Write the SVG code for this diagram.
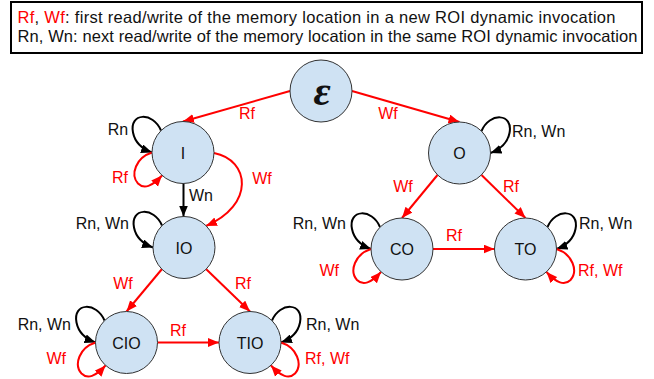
<svg xmlns="http://www.w3.org/2000/svg" width="654" height="379" viewBox="0 0 654 379">
<style>
.node circle{fill:#cfe2f3;stroke:#333;stroke-width:1}
.node text{font-family:"Liberation Sans",Arial,sans-serif;font-size:16px;text-anchor:middle;fill:#111}
.e{stroke:#f00;stroke-width:2;fill:none;marker-end:url(#ar)}
.k{stroke:#000;stroke-width:2;fill:none;marker-end:url(#ak)}
.lbl{font-family:"Liberation Sans",Arial,sans-serif;font-size:16px}
.r{fill:#f00}
.b{fill:#111}
.leg{font-family:"Liberation Sans",Arial,sans-serif;font-size:16.5px;fill:#111}
</style>
<defs>
<marker id="ar" markerUnits="userSpaceOnUse" markerWidth="12" markerHeight="10" refX="11" refY="4.5" orient="auto"><path d="M0,0 L11,4.5 L0,9 z" fill="#f00"/></marker>
<marker id="ak" markerUnits="userSpaceOnUse" markerWidth="12" markerHeight="10" refX="11" refY="4.5" orient="auto"><path d="M0,0 L11,4.5 L0,9 z" fill="#000"/></marker>
<path id="loopK" d="M-22,-22 C-30,-41 -54,-40 -50,-20 C-48,-10 -42,-4 -31,0"/>
<path id="loopR" d="M-31,0 C-47,5 -53,22 -45,31 C-39,37 -31,34 -21,23"/>
</defs>
<g id="legend">
<rect x="11" y="2" width="631" height="51" fill="#fff" stroke="#000" stroke-width="2"/>
<text class="leg" x="17.5" y="23" textLength="598" lengthAdjust="spacing"><tspan fill="#f00">Rf</tspan>, <tspan fill="#f00">Wf</tspan>: first read/write of the memory location in a new ROI dynamic invocation</text>
<text class="leg" x="17.5" y="42" textLength="620" lengthAdjust="spacing">Rn, Wn: next read/write of the memory location in the same ROI dynamic invocation</text>
</g>
<g id="connectors">
<path class="e" d="M290,91 L183,121.5"/>
<path class="e" d="M352,91 L459.5,122"/>
<path class="k" d="M183.5,183.5 L183.5,216.5"/>
<path class="e" d="M214,153 C250,160 255,205 206,226"/>
<path class="e" d="M162,269 L126.5,311.5"/>
<path class="e" d="M206,269 L250,311.5"/>
<path class="e" d="M157.5,342.5 L219,342.5"/>
<path class="e" d="M437.5,175 L402,218"/>
<path class="e" d="M481.5,175 L525.5,218"/>
<path class="e" d="M433,249 L494.5,249"/>
<use href="#loopK" class="k" transform="translate(183,152.5)"/>
<use href="#loopR" class="e" transform="translate(183,152.5)"/>
<use href="#loopK" class="k" transform="translate(184,247.5)"/>
<use href="#loopK" class="k" transform="translate(126.5,342.5)"/>
<use href="#loopR" class="e" transform="translate(126.5,342.5)"/>
<use href="#loopK" class="k" transform="translate(250,342.5) scale(-1,1)"/>
<use href="#loopR" class="e" transform="translate(250,342.5) scale(-1,1)"/>
<use href="#loopK" class="k" transform="translate(459.5,153) scale(-1,1)"/>
<use href="#loopK" class="k" transform="translate(402,249)"/>
<use href="#loopR" class="e" transform="translate(402,249)"/>
<use href="#loopK" class="k" transform="translate(525.5,249) scale(-1,1)"/>
<use href="#loopR" class="e" transform="translate(525.5,249) scale(-1,1)"/>
<text class="lbl r" x="247" y="119" text-anchor="middle">Rf</text>
<text class="lbl r" x="388" y="119" text-anchor="middle">Wf</text>
<text class="lbl b" x="189" y="201">Wn</text>
<text class="lbl r" x="262" y="184" text-anchor="middle">Wf</text>
<text class="lbl b" x="118" y="135" text-anchor="middle">Rn</text>
<text class="lbl r" x="120" y="183" text-anchor="middle">Rf</text>
<text class="lbl b" x="129" y="229" text-anchor="end">Rn, Wn</text>
<text class="lbl r" x="123" y="289" text-anchor="middle">Wf</text>
<text class="lbl r" x="243" y="289" text-anchor="middle">Rf</text>
<text class="lbl r" x="178" y="336" text-anchor="middle">Rf</text>
<text class="lbl b" x="71" y="330" text-anchor="end">Rn, Wn</text>
<text class="lbl r" x="66" y="364" text-anchor="end">Wf</text>
<text class="lbl b" x="306" y="330">Rn, Wn</text>
<text class="lbl r" x="305" y="364">Rf<tspan>, </tspan><tspan>Wf</tspan></text>
<text class="lbl b" x="512" y="137">Rn, Wn</text>
<text class="lbl r" x="403" y="192" text-anchor="middle">Wf</text>
<text class="lbl r" x="511" y="192" text-anchor="middle">Rf</text>
<text class="lbl b" x="346" y="229" text-anchor="end">Rn, Wn</text>
<text class="lbl r" x="339" y="276" text-anchor="end">Wf</text>
<text class="lbl r" x="454" y="241" text-anchor="middle">Rf</text>
<text class="lbl b" x="579" y="229">Rn, Wn</text>
<text class="lbl r" x="578" y="276">Rf<tspan>, </tspan><tspan>Wf</tspan></text>
</g>
<g id="eps" class="node"><circle cx="321" cy="91" r="31"/><text x="322" y="105" style="font-family:'Liberation Serif','Times New Roman',serif;font-size:42px;font-style:italic;font-weight:bold">ε</text></g>
<g id="I" class="node"><circle cx="183" cy="152.5" r="31"/><text x="183" y="158.5">I</text></g>
<g id="O" class="node"><circle cx="459.5" cy="153" r="31"/><text x="459.5" y="159">O</text></g>
<g id="IO" class="node"><circle cx="184" cy="247.5" r="31"/><text x="184" y="253.5">IO</text></g>
<g id="CO" class="node"><circle cx="402" cy="249" r="31"/><text x="402" y="255">CO</text></g>
<g id="TO" class="node"><circle cx="525.5" cy="249" r="31"/><text x="525.5" y="255">TO</text></g>
<g id="CIO" class="node"><circle cx="126.5" cy="342.5" r="31"/><text x="126.5" y="348.5">CIO</text></g>
<g id="TIO" class="node"><circle cx="250" cy="342.5" r="31"/><text x="250" y="348.5">TIO</text></g>
</svg>
